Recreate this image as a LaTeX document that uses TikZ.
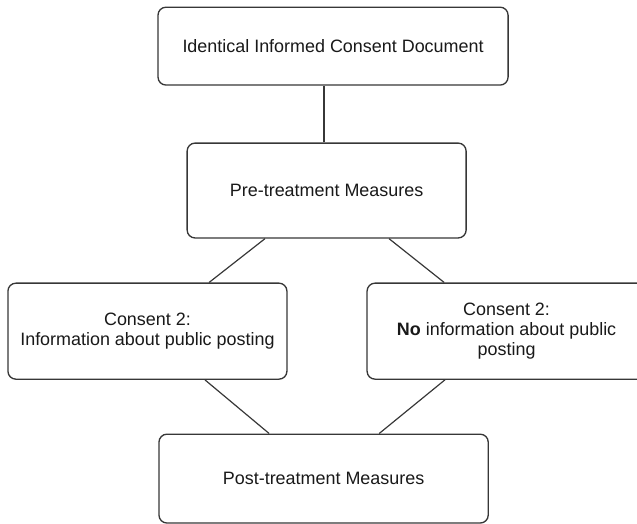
\documentclass[tikz,border=0pt]{standalone}
\usepackage{fontspec}
\setmainfont{Liberation Sans}
\usepackage{tikz}
\definecolor{boxline}{RGB}{55,55,55}
\definecolor{boxtext}{RGB}{25,25,25}
\tikzset{
  stagebox/.style={rectangle, draw=boxline, fill=white, align=center,
    font=\fontsize{13.5}{15}\selectfont, text=boxtext,
    rounded corners=6pt, line width=1pt, inner sep=0pt},
  link/.style={draw=boxline, line width=0.9pt}
}

\begin{document}
\begin{tikzpicture}
  \useasboundingbox (0,0) rectangle (16.85,-13.86);
  \clip (0,0) rectangle (16.85,-13.86);
  \node[stagebox, minimum width=9.26cm, minimum height=2.06cm] (consent1) at (8.81,-1.22) {Identical Informed Consent Document};
  \node[stagebox, minimum width=7.38cm, minimum height=2.51cm] (pretreat) at (8.64,-5.04) {Pre-treatment Measures};
  \node[stagebox, minimum width=7.38cm, minimum height=2.54cm] (infoyes) at (3.90,-8.76) {Consent 2:\\Information about public posting};
  \node[stagebox, minimum width=7.38cm, minimum height=2.54cm] (infono) at (13.40,-8.76) {Consent 2:\\\textbf{No} information about public\\posting};
  \node[stagebox, minimum width=8.71cm, minimum height=2.35cm] (posttreat) at (8.56,-12.66) {Post-treatment Measures};
  \draw[link] ([xshift=-0.07cm]pretreat.north) -- ([xshift=-0.07cm]pretreat.north |- consent1.south);
  \draw[link] ([xshift=-1.63cm]pretreat.south) -- ([xshift=1.63cm]infoyes.north);
  \draw[link] ([xshift=1.65cm]pretreat.south) -- ([xshift=-1.65cm]infono.north);
  \draw[link] ([xshift=1.52cm]infoyes.south) -- ([xshift=-1.44cm]posttreat.north);
  \draw[link] ([xshift=-1.63cm]infono.south) -- ([xshift=1.47cm]posttreat.north);
\end{tikzpicture}
\end{document}
